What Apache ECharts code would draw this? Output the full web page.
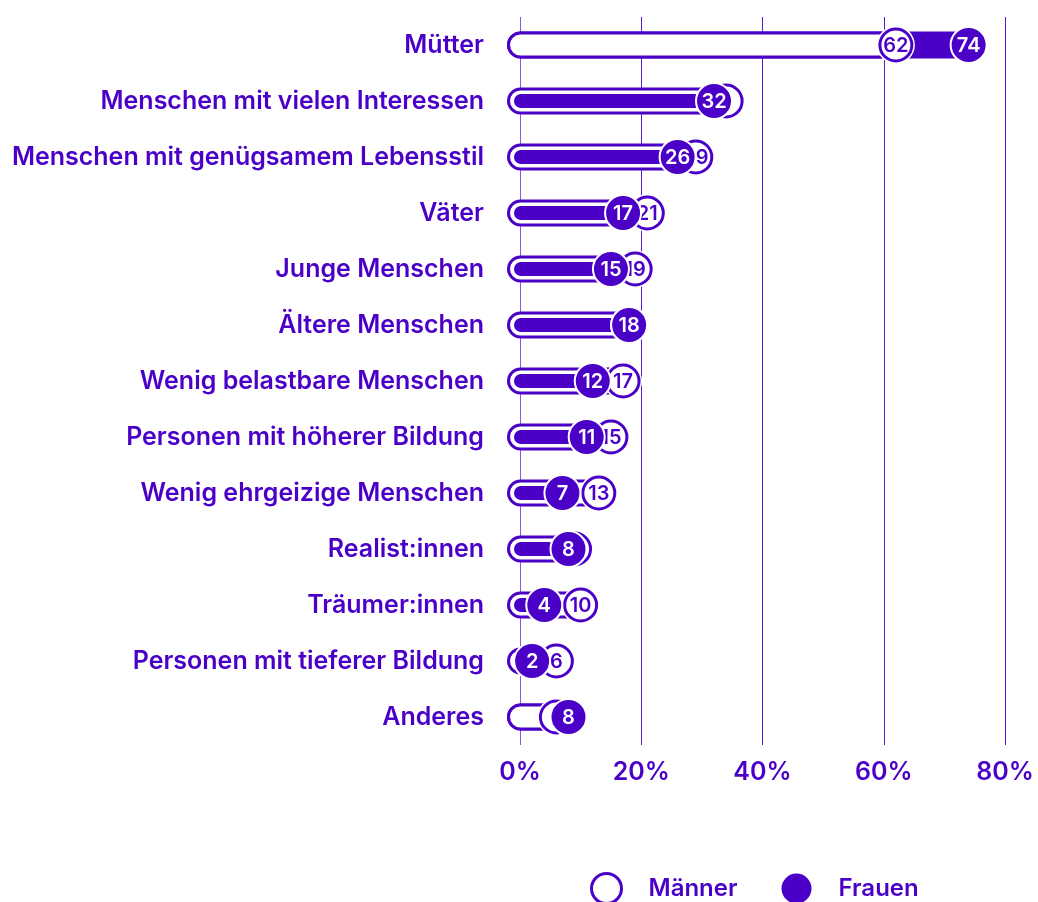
<!DOCTYPE html>
<html>
<head>
<meta charset="utf-8">
<script src="https://cdn.jsdelivr.net/npm/echarts@6/dist/echarts.min.js"></script>
<style>
html, body { margin: 0; padding: 0; background: #fff; }
#main { width: 1038px; height: 902px; }
</style>
</head>
<body>
<div id="main"></div>
<script>
// Daten
var kategorien = [
    'Mütter',
    'Menschen mit vielen Interessen',
    'Menschen mit genügsamem Lebensstil',
    'Väter',
    'Junge Menschen',
    'Ältere Menschen',
    'Wenig belastbare Menschen',
    'Personen mit höherer Bildung',
    'Wenig ehrgeizige Menschen',
    'Realist:innen',
    'Träumer:innen',
    'Personen mit tieferer Bildung',
    'Anderes'
];
var maenner = [62, 34, 29, 21, 19, 18, 17, 15, 13, 9, 10, 6, 6];
var frauen = [74, 32, 26, 17, 15, 18, 12, 11, 7, 8, 4, 2, 8];
var xTicks = [0, 20, 40, 60, 80];

var lila = '#4b00c8';
var schrift = 'Inter';

var chart = echarts.init(document.getElementById('main'));

function zeile(params, api) {
    var i = api.value(0);
    var m = api.value(1);
    var f = api.value(2);
    var p0 = api.coord([0, i]);
    var pm = api.coord([m, i]);
    var pf = api.coord([f, i]);
    var cy = p0[1];
    var x0 = p0[0] - 13;
    var H = 27;
    var kids = [];
    var barM = {
        type: 'rect',
        shape: {x: x0 + 1.5, y: cy - H / 2 + 1.5, width: Math.max(pm[0] - x0 - 1.5, 0), height: H - 3, r: (H - 3) / 2},
        style: {fill: '#fff', stroke: lila, lineWidth: 3}
    };
    if (f > m) {
        // Frauen-Balken voll, Männer-Balken darüber
        kids.push({
            type: 'rect',
            shape: {x: x0, y: cy - H / 2, width: pf[0] - x0, height: H, r: H / 2},
            style: {fill: lila}
        });
        kids.push(barM);
    } else {
        kids.push(barM);
        kids.push({
            type: 'rect',
            shape: {x: x0 + 7, y: cy - 7, width: Math.max(pf[0] - x0 - 7, 0), height: 14, r: 7},
            style: {fill: lila}
        });
    }
    // Kreis Männer
    kids.push({type: 'circle', shape: {cx: pm[0], cy: cy, r: 19}, style: {fill: '#fff'}});
    kids.push({type: 'circle', shape: {cx: pm[0], cy: cy, r: 16}, style: {fill: '#fff', stroke: lila, lineWidth: 3}});
    // Männer-Zahl nur wenn nicht fast ganz verdeckt
    if (Math.abs(m - f) >= 3) {
        kids.push({
            type: 'text', x: pm[0], y: cy + 1,
            style: {text: String(m), fill: lila, fontSize: 20, fontWeight: 600, fontFamily: schrift, align: 'center', verticalAlign: 'middle'}
        });
    }
    // Kreis Frauen
    kids.push({type: 'circle', shape: {cx: pf[0], cy: cy, r: 18}, style: {fill: lila, stroke: '#fff', lineWidth: 2}});
    kids.push({
        type: 'text', x: pf[0], y: cy + 1,
        style: {text: String(f), fill: '#fff', fontSize: 20, fontWeight: 600, fontFamily: schrift, align: 'center', verticalAlign: 'middle'}
    });
    return {type: 'group', children: kids};
}

var zeilen = kategorien.map(function (k, i) {
    return [i, maenner[i], frauen[i]];
});

chart.setOption({
    animation: false,
    grid: {left: 520, right: 33, top: 17, height: 728},
    xAxis: {
        type: 'value',
        min: xTicks[0],
        max: xTicks[xTicks.length - 1],
        interval: 20,
        axisLine: {show: false},
        axisTick: {show: false},
        axisLabel: {
            formatter: '{value}%', color: lila, fontSize: 25, fontWeight: 600, fontFamily: schrift, margin: 15
        },
        splitLine: {
            show: true,
            lineStyle: {color: ['#8a55e6', '#5a16d2', '#5a16d2', '#5a16d2', '#5a16d2'], width: 1}
        }
    },
    yAxis: {
        type: 'category',
        inverse: true,
        data: kategorien,
        axisLine: {show: false},
        axisTick: {show: false},
        axisLabel: {color: lila, fontSize: 25, fontWeight: 600, fontFamily: schrift, margin: 36}
    },
    legend: {
        left: 585,
        top: 867,
        itemWidth: 30,
        itemHeight: 30,
        itemGap: 44,
        textStyle: {color: lila, fontSize: 24, fontWeight: 600, fontFamily: schrift, padding: [0, 0, 0, 22]},
        data: [
            {name: 'Männer', icon: 'circle', itemStyle: {color: '#fff', borderColor: lila, borderWidth: 3, opacity: 1}},
            {name: 'Frauen', icon: 'circle', itemStyle: {color: lila, borderWidth: 0, opacity: 1}}
        ]
    },
    series: [
        {
            type: 'custom',
            name: 'Werte',
            renderItem: zeile,
            encode: {x: [1, 2], y: 0},
            data: zeilen
        },
        {name: 'Männer', type: 'scatter', data: [], itemStyle: {color: '#fff', borderColor: lila, borderWidth: 3, opacity: 1}},
        {name: 'Frauen', type: 'scatter', data: [], itemStyle: {color: lila, opacity: 1}}
    ]
});
</script>
</body>
</html>
